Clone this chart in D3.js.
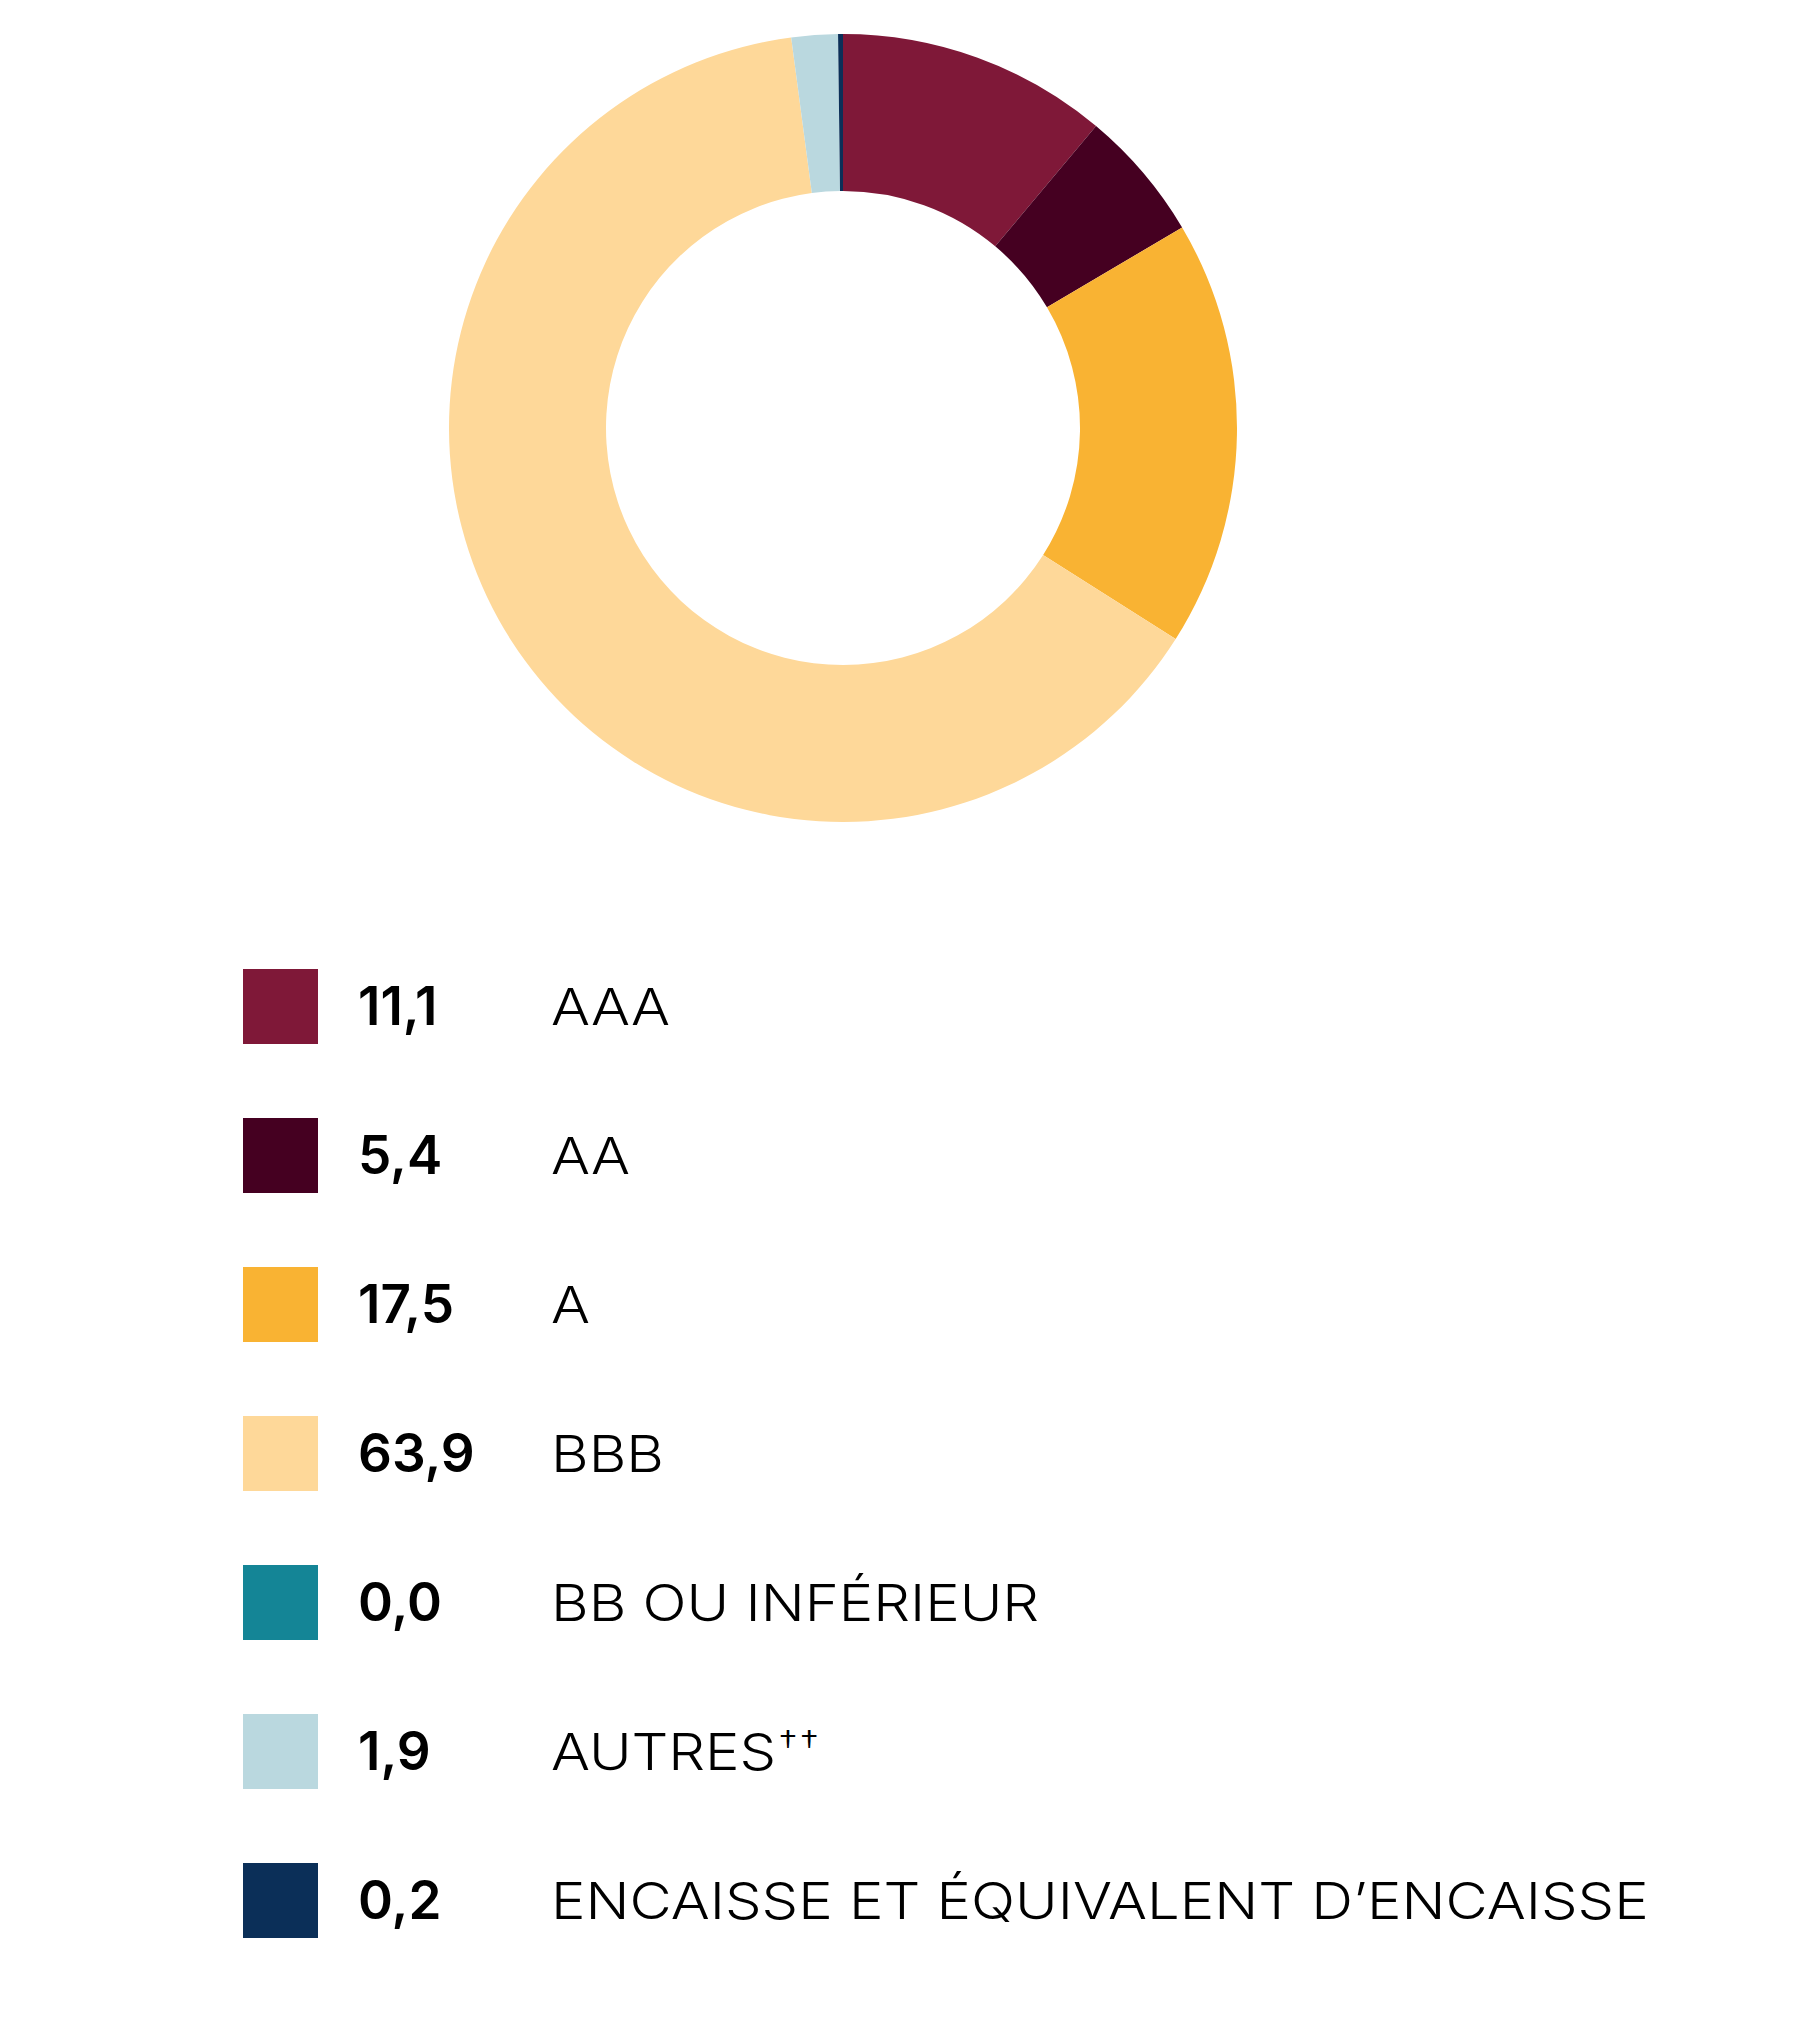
<!DOCTYPE html>
<html>
<head>
<meta charset="utf-8">
<script src="https://cdn.jsdelivr.net/npm/d3@7"></script>
<style>
  html, body { margin: 0; padding: 0; background: #fff; }
  svg { display: block; }
</style>
</head>
<body>
<svg id="chart"></svg>
<script>
const width = 1800;
const height = 2042;

// data (percentages)
const values = [11.1, 5.4, 17.5, 63.9, 0.0, 1.9, 0.2];
const valueLabels = ["11,1", "5,4", "17,5", "63,9", "0,0", "1,9", "0,2"];
const categories = ["AAA", "AA", "A", "BBB", "BB OU INFÉRIEUR", "AUTRES", "ENCAISSE ET ÉQUIVALENT D’ENCAISSE"];
const colors = ["#7f1838", "#450021", "#f9b333", "#fed899", "#148596", "#bad8df", "#0b2f58"];

const rows = categories.map((c, i) => ({ cat: c, value: values[i], label: valueLabels[i], i }));

const svg = d3.select("#chart")
    .attr("width", width)
    .attr("height", height)
    .attr("viewBox", [0, 0, width, height]);

// donut
const pie = d3.pie()
    .sort(null)
    .value(d => d.value);

const arc = d3.arc()
    .innerRadius(237)
    .outerRadius(394);

const color = d3.scaleOrdinal()
    .domain(categories)
    .range(colors);

svg.append("g")
    .attr("transform", "translate(843,428)")
    .selectAll("path")
    .data(pie(rows))
    .join("path")
    .attr("fill", d => color(d.data.cat))
    .attr("d", arc);

// legend
const y = d3.scaleBand()
    .domain(d3.range(rows.length))
    .range([969, 969 + 149 * rows.length])
    .paddingInner(0);

const legend = svg.append("g")
    .selectAll("g")
    .data(rows)
    .join("g")
    .attr("transform", d => `translate(0,${y(d.i)})`);

legend.append("rect")
    .attr("x", 243)
    .attr("width", 75)
    .attr("height", 75)
    .attr("fill", d => color(d.cat));

const nums = legend.append("text")
    .attr("x", 358)
    .attr("y", 56)
    .attr("font-family", "Inter, sans-serif")
    .attr("font-weight", 600)
    .attr("font-size", 53)
    .attr("fill", "#000")
    .style("font-variant-numeric", "proportional-nums")
    .text(d => d.label);

const labels = legend.append("text")
    .attr("x", 0)
    .attr("y", 56)
    .attr("font-family", "Inter, sans-serif")
    .attr("font-weight", 300)
    .attr("font-size", 51)
    .attr("fill", "#000");

labels.append("tspan").text(d => d.cat);
labels.filter(d => d.cat === "AUTRES")
    .append("tspan")
    .attr("font-size", 34)
    .attr("dy", -15)
    .attr("dx", 2)
    .attr("letter-spacing", 2)
    .text("††");

// widen glyphs so the longest label spans the reference width
const longest = labels.filter(d => d.i === 6).node();
const k = 1098 / longest.getComputedTextLength();
labels.attr("transform", `translate(551,0) scale(${k},1)`);
</script>
</body>
</html>
